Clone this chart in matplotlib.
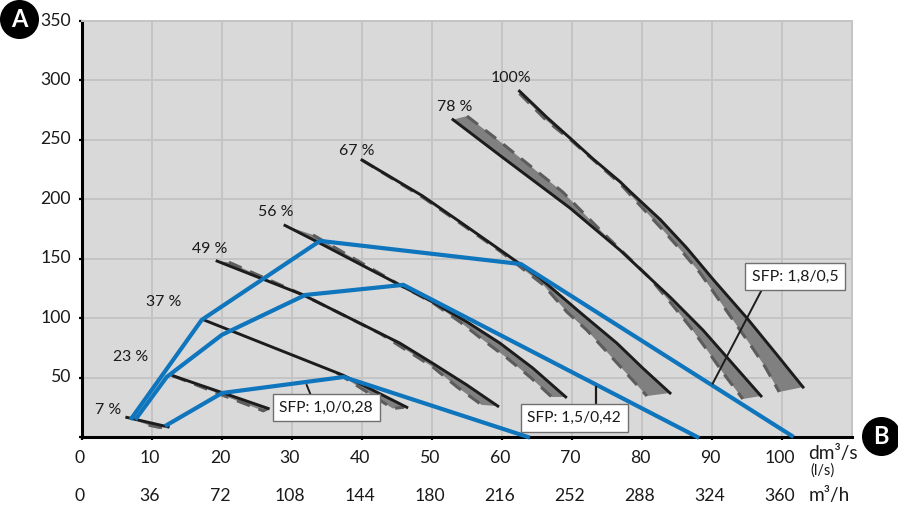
import matplotlib
matplotlib.use("Agg")
import matplotlib.pyplot as plt
from matplotlib.transforms import ScaledTranslation

plt.rcParams['font.family'] = ['Lato', 'DejaVu Sans']

# fan curves: upper solid edge and lower dashed edge
curves = {
    '100%': ([62.5, 66.4, 70.0, 73.0, 76.9, 78.3, 82.6, 86.4, 90.1, 95.0, 99.3, 103.0],
             [291, 269, 250, 234, 214.6, 206.5, 183, 159, 133, 100, 69, 42],
             [62.5, 66.4, 70.0, 76.9, 79.7, 83.0, 85.9, 88.3, 90.7, 93.0, 95.7, 97.6, 99.6],
             [289, 266, 249, 213, 195, 174, 154.8, 138, 117.8, 98.4, 75.7, 58.9, 37.9]),
    '78 %': ([53.0, 60.0, 69.7, 76.9, 84.0, 88.7, 92.1, 97.0],
             [267, 235.6, 192.7, 157, 117.8, 90, 67.3, 34.5],
             [55.0, 59.4, 68.7, 74.3, 81.1, 84.0, 86.9, 89.3, 91.6, 94.4],
             [270, 250, 206, 172.5, 133.8, 113.6, 92.5, 73.2, 53.8, 32]),
    '67 %': ([40.0, 48.6, 54.0, 59.7, 65.4, 71.6, 76.4, 80.1, 84.0],
             [233, 203, 181, 157.5, 133.8, 102.6, 79, 58, 37],
             [40.0, 48.6, 54.0, 59.7, 65.9, 69.3, 72.1, 75.0, 77.6, 80.7],
             [233, 202, 180, 156.5, 128, 105, 90, 71.5, 54.7, 34.5]),
    '56 %': ([29.0, 34.0, 45.4, 50.1, 55.0, 59.7, 64.4, 69.1],
             [178, 163, 127.9, 113.6, 96.8, 79, 58, 33.7],
             [33.0, 45.4, 50.1, 54.0, 57.3, 60.7, 64.0, 67.1],
             [170, 127.9, 113, 96.8, 81.6, 66.5, 50.5, 33.7]),
    '49 %': ([19.3, 31.6, 45.4, 50.1, 55.0, 59.4],
             [148, 119.5, 79, 62, 43.7, 26],
             [21.0, 31.6, 42.6, 50.1, 53.6, 57.1],
             [147, 119.5, 87, 59, 42, 27]),
    '37 %': ([17.4, 37.3, 46.4], [98.5, 52, 25],
             [36.4, 44.4, 46.0], [54, 24, 25]),
    '23 %': ([13.0, 19.7, 26.6], [51.5, 38, 24],
             [13.0, 19.7, 25.9, 26.6], [51.5, 36, 22, 24]),
    '7 %': ([6.4, 12.3], [16.5, 8.5],
            [9.5, 11.1, 12.3], [10, 8, 8.5]),
}
label_x = [61.3, 53.3, 39.3, 27.7, 18.3, 11.6, 7.0, 3.7]
label_y = [302, 277.7, 240.6, 189, 158, 113.6, 67, 22.7]

# SFP lines
sfp_a_x = [7.1, 17.1, 34.0, 62.7, 101.4]
sfp_a_y = [16, 98.5, 165, 145.5, 1]
sfp_b_x = [7.8, 12.1, 20.0, 31.9, 45.9, 87.9]
sfp_b_y = [16, 50.5, 86, 119.5, 128, 0]
sfp_c_x = [12.1, 20.0, 37.4, 63.7]
sfp_c_y = [10, 37, 50.5, 0]

x_ticks = list(range(0, 110, 10))
y_ticks = list(range(0, 400, 50))
y_labels = ['', '50', '100', '150', '200', '250', '300', '350']
m3h_labels = ['0', '36', '72', '108', '144', '180', '216', '252', '288', '324', '360']

BLUE = '#0f75bc'
DARK = '#1c1c1c'

fig = plt.figure(figsize=(8.98, 5.05), dpi=100)
ax = fig.add_axes([82 / 898, (505 - 437) / 505, 770 / 898, 416 / 505])
ax.set_facecolor('#d9d9d9')
ax.set_xlim(0, 110)
ax.set_ylim(0, 350)
ax.grid(True, color='#c4c4c4', lw=1.4)
ax.set_axisbelow(True)

for s in ['top', 'right']:
    ax.spines[s].set_color('#c4c4c4')
    ax.spines[s].set_linewidth(1.4)
for s in ['left', 'bottom']:
    ax.spines[s].set_color('black')
    ax.spines[s].set_linewidth(2.2)

ax.set_xticks(x_ticks)
ax.set_xticklabels([])
ax.set_yticks(y_ticks)
ax.set_yticklabels(y_labels, fontsize=12.7, color='#1a1a1a')
ax.tick_params(axis='y', length=2, width=1.6, pad=6)
ax.tick_params(axis='x', length=2, width=1.6)
for lab in ax.get_yticklabels():
    lab.set_transform(lab.get_transform() + ScaledTranslation(0, 2 / 100, fig.dpi_scale_trans))

# x labels, two rows under the axis
for v, m in zip(x_ticks, m3h_labels):
    ax.annotate(str(v), (v, 0), xytext=(-1.5, -15), textcoords='offset points', ha='center', va='center',
                fontsize=12.7, color='#1a1a1a', annotation_clip=False)
    ax.annotate(m, (v, 0), xytext=(-1.5, -42.5), textcoords='offset points', ha='center', va='center',
                fontsize=12.7, color='#1a1a1a', annotation_clip=False)

ax.text(103.8, -13.5, 'dm³/s', fontsize=13.7, va='center', ha='left', color='#1a1a1a', clip_on=False)
ax.text(104, -28, '(l/s)', fontsize=10.5, va='center', ha='left', color='#1a1a1a', clip_on=False)
ax.text(103.8, -49.5, 'm³/h', fontsize=13.7, va='center', ha='left', color='#1a1a1a', clip_on=False)

for (name, (ux, uy, lx, ly)), tx, ty in zip(curves.items(), label_x, label_y):
    ax.fill(ux + lx[::-1], uy + ly[::-1], color='#808080', lw=0, zorder=2)
    ax.plot(lx, ly, color='#5c5c5c', lw=2.2, dashes=(4.5, 3), zorder=3)
    ax.plot(ux, uy, color=DARK, lw=2.1, zorder=4)
    ax.text(tx, ty, name, fontsize=11.4, ha='center', va='center', color='#1a1a1a')

ax.plot(sfp_a_x, sfp_a_y, color=BLUE, lw=3, zorder=5, solid_joinstyle='miter', clip_on=False)
ax.plot(sfp_b_x, sfp_b_y, color=BLUE, lw=3, zorder=5, solid_joinstyle='miter', clip_on=False)
ax.plot(sfp_c_x, sfp_c_y, color=BLUE, lw=3, zorder=5, solid_joinstyle='miter', clip_on=False)

# callouts
ax.plot([90.1, 97.1], [45, 123.7], color=DARK, lw=1.4, zorder=6)
ax.plot([73.4, 73.4], [42, 27], color=DARK, lw=1.6, zorder=6)
ax.plot([32.1, 32.7], [43.7, 35], color=DARK, lw=1.4, zorder=4)

box = dict(boxstyle='square,pad=0.42', fc='white', ec='#707070', lw=1)
ax.text(101.9, 135, 'SFP: 1,8/0,5', fontsize=11.4, ha='center', va='center', bbox=box, zorder=7, color='#1a1a1a')
ax.text(70.3, 16, 'SFP: 1,5/0,42', fontsize=11.2, ha='center', va='center', bbox=box, zorder=7, color='#1a1a1a')
ax.text(34.9, 24.5, 'SFP: 1,0/0,28', fontsize=11.2, ha='center', va='center', bbox=box, zorder=7, color='#1a1a1a')

# corner badges
ax.scatter([-9, 114.1], [351.7, 0.8], s=790, color='black', clip_on=False, zorder=8, lw=0)
ax.text(-9, 351.2, 'A', color='white', fontsize=17, fontweight='bold', ha='center', va='center', clip_on=False, zorder=9)
ax.text(114.1, 0.3, 'B', color='white', fontsize=17, fontweight='bold', ha='center', va='center', clip_on=False, zorder=9)

fig.savefig('out.png', dpi=100)
